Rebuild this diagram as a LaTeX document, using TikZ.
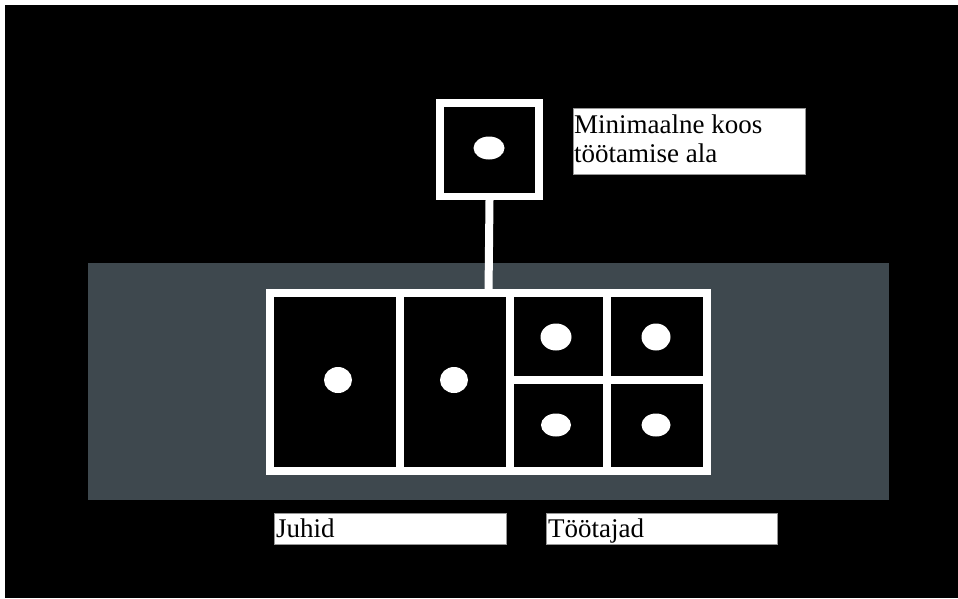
\documentclass[tikz,border=0pt]{standalone}
\usepackage{fontspec}
\setmainfont{Liberation Serif}
\usetikzlibrary{shapes.geometric}
\definecolor{band}{RGB}{62,72,78}
\definecolor{lblborder}{RGB}{150,150,150}
\tikzset{
  cell/.style={draw=white, fill=black, line width=7.5pt, inner sep=0pt},
  dot/.style={ellipse, fill=white, inner sep=0pt},
  lblbox/.style={draw=lblborder, fill=white, line width=1pt, inner sep=0pt},
  lbltext/.style={inner sep=0pt, font=\fontsize{27}{29}\selectfont, text=black},
  link/.style={draw=white, line width=8pt}
}
\begin{document}
\begin{tikzpicture}[x=1pt,y=-1pt]
  \useasboundingbox (0,0) rectangle (958,598);
  \fill[white] (0,0) rectangle (958,598);
  \fill[black] (5,5) rectangle (958,598);
  \fill[band] (88,263) rectangle (889,500);

  % top box
  \node[cell, minimum width=99pt, minimum height=93.5pt] (top) at (489.5,149.5) {};
  \node[dot, minimum width=31pt, minimum height=23pt] (dtop) at (489,148) {};

  % big box cells
  \node[cell, minimum width=130pt, minimum height=178pt] (c1) at (335,382) {};
  \node[cell, minimum width=110pt, minimum height=178pt] (c2) at (455,382) {};
  \node[cell, minimum width=97pt, minimum height=87pt] (c3) at (558.5,336.5) {};
  \node[cell, minimum width=100pt, minimum height=87pt] (c4) at (657,336.5) {};
  \node[cell, minimum width=97pt, minimum height=91pt] (c5) at (558.5,425.5) {};
  \node[cell, minimum width=100pt, minimum height=91pt] (c6) at (657,425.5) {};
  \coordinate (bigtop) at (488.5,293);

  \draw[link] (top.south) -- (bigtop);

  \node[dot, minimum width=28pt, minimum height=26pt] (d1) at (338,380) {};
  \node[dot, minimum width=28pt, minimum height=26pt] (d2) at (454,380) {};
  \node[dot, minimum width=31pt, minimum height=27pt] (d3) at (556,337) {};
  \node[dot, minimum width=29pt, minimum height=27pt] (d4) at (656,337) {};
  \node[dot, minimum width=30pt, minimum height=23pt] (d5) at (556,425) {};
  \node[dot, minimum width=29pt, minimum height=23pt] (d6) at (656,425) {};

  % labels
  \node[lblbox, minimum width=232pt, minimum height=66pt] (lmin) at (689,141) {};
  \node[lbltext, anchor=base west] (lmin1) at (574,133) {Minimaalne koos};
  \node[lbltext, anchor=base west] (lmin2) at (574,162) {töötamise ala};

  \node[lblbox, minimum width=232pt, minimum height=31pt] (ljuh) at (390,528.5) {};
  \node[lbltext, anchor=base west] (ljuht) at (276,537) {Juhid};

  \node[lblbox, minimum width=231pt, minimum height=31pt] (ltoo) at (661.5,528.5) {};
  \node[lbltext, anchor=base west] (ltoot) at (548,537) {Töötajad};
\end{tikzpicture}
\end{document}
